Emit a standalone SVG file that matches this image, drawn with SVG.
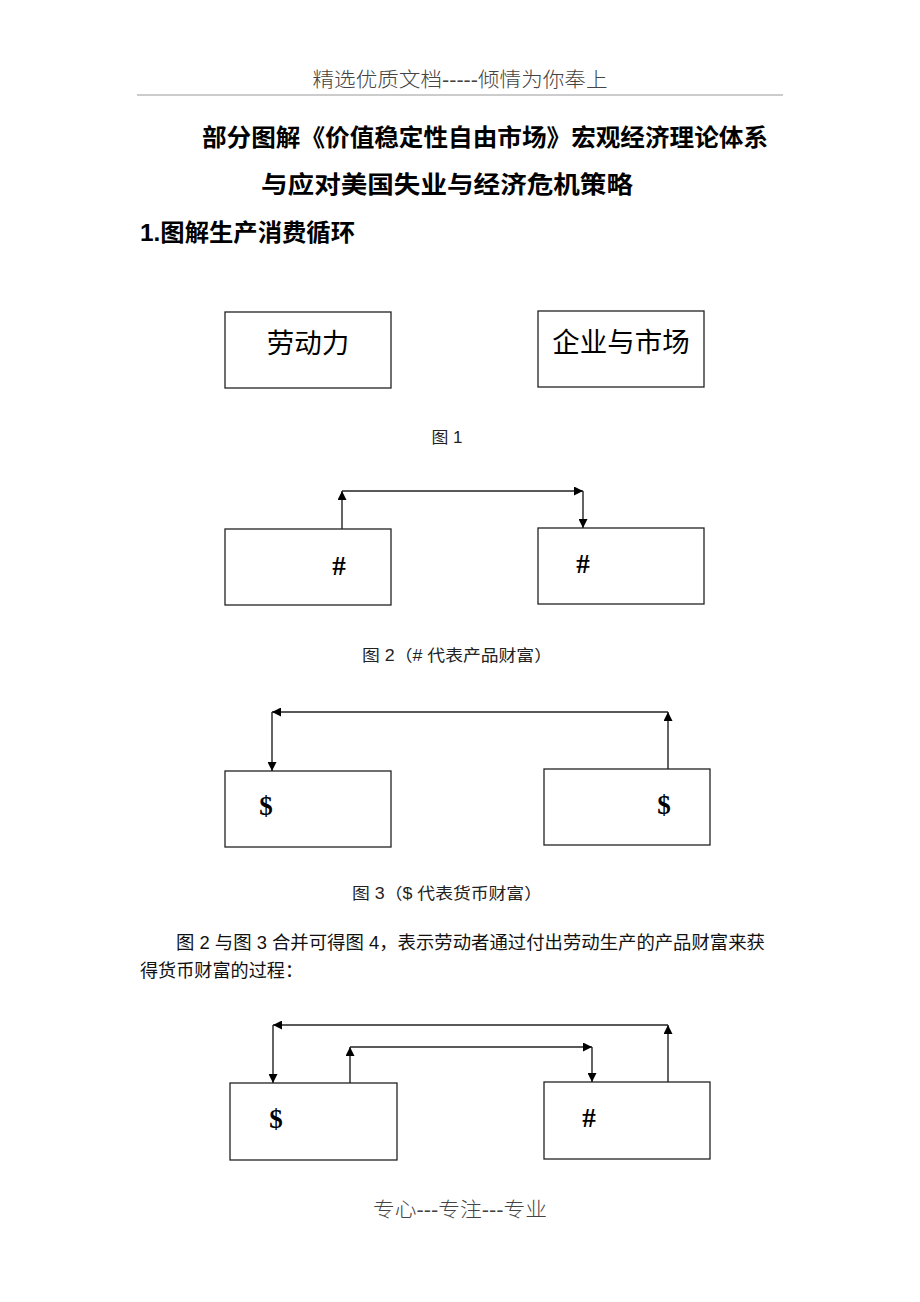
<svg xmlns="http://www.w3.org/2000/svg" width="920" height="1302" viewBox="0 0 920 1302">
<style>
text{font-family:"Liberation Sans","Noto Sans CJK SC",sans-serif;fill:#000}
.hdr{font-size:20px;fill:#444;font-weight:300}
.ttl{font-size:24px;font-weight:bold}
.cap{font-size:16px;fill:#222}
.para{font-size:18px;fill:#111}
.box{fill:#fff;stroke:#222;stroke-width:1.3}
.lbl{font-size:27.5px}
.sym{font-size:27px;font-weight:bold;font-family:"Liberation Serif","Noto Sans CJK SC",serif}
.con line{stroke:#222;stroke-width:1.4;marker-end:url(#ah)}
</style>
<defs>
<marker id="ah" viewBox="0 0 10 10" refX="10" refY="5" markerWidth="9" markerHeight="9" markerUnits="userSpaceOnUse" orient="auto"><path d="M0,0 L10,5 L0,10 z" fill="#000"/></marker>
</defs>
<rect width="920" height="1302" fill="#fff"/>
<text class="hdr" x="460" y="87" text-anchor="middle" textLength="295" lengthAdjust="spacingAndGlyphs">精选优质文档-----倾情为你奉上</text>
<line x1="137" y1="95" x2="783" y2="95" stroke="#999" stroke-width="1.2"/>
<text class="ttl" x="202" y="146" textLength="566" lengthAdjust="spacingAndGlyphs">部分图解《价值稳定性自由市场》宏观经济理论体系</text>
<text class="ttl" x="261" y="193" textLength="372" lengthAdjust="spacingAndGlyphs">与应对美国失业与经济危机策略</text>
<text class="ttl" x="140" y="241" font-size="22" textLength="215" lengthAdjust="spacingAndGlyphs">1.图解生产消费循环</text>

<g id="fig1-labor"><rect class="box" x="225" y="312" width="166" height="76"/><text class="lbl" x="308" y="353" text-anchor="middle">劳动力</text></g>
<g id="fig1-market"><rect class="box" x="538" y="311" width="166" height="76"/><text class="lbl" x="621" y="352" text-anchor="middle">企业与市场</text></g>
<text class="cap" x="447" y="443" text-anchor="middle" textLength="31" lengthAdjust="spacingAndGlyphs">图 1</text>

<g id="fig2-left"><rect class="box" x="225" y="529" width="166" height="76"/><text class="sym" x="339" y="575" text-anchor="middle">#</text></g>
<g id="fig2-right"><rect class="box" x="538" y="528" width="166" height="76"/><text class="sym" x="583" y="573" text-anchor="middle">#</text></g>
<g id="fig2-connectors" class="con">
<line x1="342" y1="529" x2="342" y2="491"/>
<line x1="342" y1="491" x2="583" y2="491"/>
<line x1="583" y1="491" x2="583" y2="528"/>
</g>
<text class="cap" x="362" y="661" textLength="190" lengthAdjust="spacingAndGlyphs">图 2（# 代表产品财富）</text>

<g id="fig3-left"><rect class="box" x="225" y="771" width="166" height="76"/><text class="sym" x="266" y="815" text-anchor="middle">$</text></g>
<g id="fig3-right"><rect class="box" x="544" y="769" width="166" height="76"/><text class="sym" x="664" y="814" text-anchor="middle">$</text></g>
<g id="fig3-connectors" class="con">
<line x1="668" y1="769" x2="668" y2="712"/>
<line x1="668" y1="712" x2="272" y2="712"/>
<line x1="272" y1="712" x2="272" y2="771"/>
</g>
<text class="cap" x="352" y="899" textLength="190" lengthAdjust="spacingAndGlyphs">图 3（$ 代表货币财富）</text>

<text class="para" x="176" y="949" textLength="589" lengthAdjust="spacingAndGlyphs">图 2 与图 3 合并可得图 4，表示劳动者通过付出劳动生产的产品财富来获</text>
<text class="para" x="140" y="977" textLength="163" lengthAdjust="spacingAndGlyphs">得货币财富的过程：</text>

<g id="fig4-left"><rect class="box" x="230" y="1083" width="167" height="77"/><text class="sym" x="276" y="1128" text-anchor="middle">$</text></g>
<g id="fig4-right"><rect class="box" x="544" y="1082" width="166" height="77"/><text class="sym" x="589" y="1127" text-anchor="middle">#</text></g>
<g id="fig4-connectors" class="con">
<line x1="668" y1="1082" x2="668" y2="1025"/>
<line x1="668" y1="1025" x2="273" y2="1025"/>
<line x1="273" y1="1025" x2="273" y2="1083"/>
<line x1="350" y1="1083" x2="350" y2="1047"/>
<line x1="350" y1="1047" x2="592" y2="1047"/>
<line x1="592" y1="1047" x2="592" y2="1082"/>
</g>

<text class="hdr" x="460" y="1217" text-anchor="middle" textLength="174" lengthAdjust="spacingAndGlyphs">专心---专注---专业</text>
</svg>
